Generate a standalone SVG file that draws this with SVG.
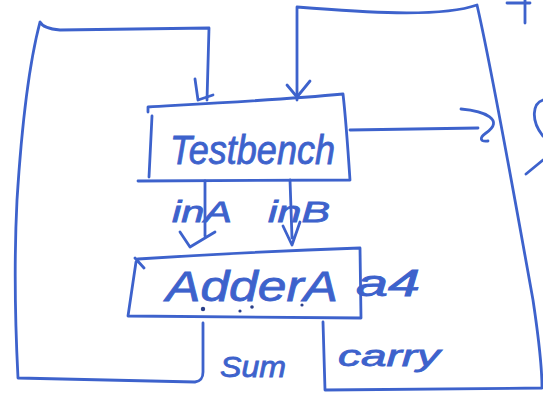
<svg xmlns="http://www.w3.org/2000/svg" width="543" height="395" viewBox="0 0 543 395">
<style>
.s{fill:none;stroke:#3d62cc;stroke-width:2.8;stroke-linecap:round;stroke-linejoin:round}
.t{fill:#3d62cc;stroke:#3d62cc;stroke-width:0.8;font-family:"Liberation Sans","DejaVu Sans",sans-serif;font-style:italic}
.d{fill:#2a3f8a}
</style>
<rect width="543" height="395" fill="#fff"/>
<g id="testbench">
<path class="s" d="M148,112 L148,107 C200,104 280,100 343,94 C346,120 348,150 350,180 M152,116 L149,177 M138,181 L350,180"/>
<text class="t" x="170" y="164" font-size="40" textLength="165" lengthAdjust="spacingAndGlyphs">Testbench</text>
</g>
<g id="adder">
<path class="s" d="M138,259 C200,255 300,250 360,248 L361,318 L128,316 L136,262 M135,258 L144,268"/>
<text class="t" x="166" y="301" font-size="42" textLength="172" lengthAdjust="spacingAndGlyphs">AdderA</text>
<text class="t" x="356" y="296" font-size="36" textLength="64" lengthAdjust="spacingAndGlyphs">a4</text>
<circle class="d" cx="203" cy="309" r="2.2"/>
<circle class="d" cx="240" cy="311" r="1.6"/>
<circle class="d" cx="252" cy="307" r="1.8"/>
<circle class="d" cx="302" cy="305" r="1.6"/>
</g>
<g id="connectors">
<path class="s" d="M207,100 L209,28 L60,30 C48,29 42,26 40,22 C30,60 22,120 17,200 C14,260 15,320 18,378 L195,382 C201,381 203,378 203,372 L203,323"/>
<path class="s" d="M195,79 L198,100 L213,95"/>
<path class="s" d="M297,100 L297,7 C360,12 440,18 477,5 C492,70 515,200 533,300 C539,340 542,370 542,388 L325,390 L323,322"/>
<path class="s" d="M287,85 L297,97 L310,81"/>
<path class="s" d="M350,130 L478,128 M461,109 C485,111 505,120 486,133 C479,138 480,142 488,141"/>
<path class="s" d="M205,181 L205,236 M180,232 L190,247 L215,232"/>
<path class="s" d="M290,180 L292,238 M283,226 L292,245 L300,222"/>
<text class="t" x="172" y="222" font-size="30" textLength="60" lengthAdjust="spacingAndGlyphs">inA</text>
<text class="t" x="268" y="222" font-size="30" textLength="62" lengthAdjust="spacingAndGlyphs">inB</text>
<text class="t" x="220" y="377" font-size="30" textLength="66" lengthAdjust="spacingAndGlyphs">Sum</text>
<text class="t" x="338" y="366" font-size="30" textLength="102" lengthAdjust="spacingAndGlyphs">carry</text>
</g>
<path class="s" d="M507,3 L530,3 M525,0 L525,23"/>
<path class="s" d="M543,100 C533,103 530,120 543,136 M526,174 L543,160"/>
</svg>
